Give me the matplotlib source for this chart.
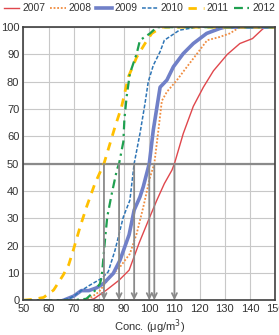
import matplotlib
matplotlib.use("Agg")
import matplotlib.pyplot as plt

plt.rcParams['font.family'] = ['Liberation Sans', 'DejaVu Sans']

# cumulative percentage curves
x_2007 = [76, 78, 83, 88, 92, 96, 100, 103, 106, 109, 110, 113.5, 117.5, 121.5, 125.5, 131, 136, 141, 144.7, 146, 150]
y_2007 = [0, 0.5, 3.7, 7.3, 11, 21, 30, 36.6, 42.7, 47.6, 50, 61, 71, 78, 84, 90, 94, 95.8, 99, 100, 100]

x_2008 = [74, 76, 80, 84.4, 88.4, 92.3, 95, 97.6, 100.3, 102, 103.6, 105, 107, 111, 115, 119, 123, 128, 132, 136, 150]
y_2008 = [0, 0.5, 3, 8.5, 12.2, 17, 24.4, 34, 45, 50, 62, 73, 76.3, 80.6, 85.5, 90.3, 95.2, 96.4, 97.7, 100, 100]

x_2009 = [66, 70, 73, 76, 79, 81.7, 85.7, 88.4, 92, 94, 96.3, 97.6, 100, 101.6, 104.3, 107, 109.6, 113.5, 117.5, 122.8, 128, 130, 150]
y_2009 = [0, 1.5, 3.5, 3.5, 4.5, 6, 9.8, 14.7, 24, 33, 37.8, 41.5, 50, 62.3, 78, 80.6, 85.5, 90.3, 94, 97.7, 99.5, 100, 100]

x_2010 = [64, 68, 70, 73, 76.4, 81.1, 83.7, 86.4, 89.7, 92.3, 94, 96.3, 98.3, 99.6, 101.6, 104.3, 106, 112, 119, 150]
y_2010 = [0, 0.5, 1.5, 3.5, 5.5, 8, 10.4, 18.3, 30.5, 36.6, 50, 61, 72, 80, 86, 91, 95.2, 98.9, 100, 100]

x_2011 = [50, 54, 58, 62, 65.8, 68, 69.8, 72.5, 75.1, 78.4, 82, 86.4, 89, 91.7, 95, 98.3, 101, 105, 150]
y_2011 = [0, 0.3, 1, 3.7, 9.2, 13, 18.3, 26.8, 34.2, 42.7, 50, 63.5, 70.8, 81.8, 89, 94, 97.7, 100, 100]

x_2012 = [50, 70, 75, 78, 80.4, 81.1, 82.4, 83.3, 85.1, 87.1, 88, 89.7, 90.1, 91, 92.3, 95, 96.3, 100.3, 103, 150]
y_2012 = [0, 0, 0.5, 3, 6, 8.5, 22, 30.5, 39, 47.6, 50, 58, 66, 74.5, 83, 90.3, 95.2, 97.7, 100, 100]

medians = [82, 88, 94, 100, 102, 110]

fig = plt.figure(figsize=(2.79, 3.35), dpi=100)
ax = fig.add_axes([0.084, 0.104, 0.902, 0.815])

ax.plot(x_2007, y_2007, color='#E0474C', lw=1.0, label='2007')
ax.plot(x_2008, y_2008, color='#F08C40', lw=1.3, ls=(0, (1, 1)), label='2008')
ax.plot(x_2009, y_2009, color='#7080C8', lw=2.6, label='2009')
ax.plot(x_2010, y_2010, color='#2E75B6', lw=1.1, ls=(0, (2.5, 1.2)), label='2010')
ax.plot(x_2011, y_2011, color='#FFC000', lw=2.0, ls=(0, (3, 2.5)), label='2011')
ax.plot(x_2012, y_2012, color='#1FA050', lw=1.6, ls=(0, (4, 2, 1, 2)), label='2012')

ax.axhline(50, color='#8A8A8A', lw=1.6, zorder=1)
for m in medians:
    ax.annotate('', xy=(m, 0), xytext=(m, 50),
                arrowprops=dict(arrowstyle='->', color='#8A8A8A', lw=1.3,
                                shrinkA=0, shrinkB=0, mutation_scale=9))

ax.set_xlim(50, 150)
ax.set_ylim(0, 100)
ax.set_xticks(range(50, 151, 10))
ax.set_yticks(range(0, 101, 10))
ax.grid(True, color='#C8C8C8', lw=0.8)
ax.set_axisbelow(True)
ax.tick_params(length=0, labelsize=8, colors='#333333', pad=3)
for s in ax.spines.values():
    s.set_color('#404040')
    s.set_linewidth(1.2)
ax.set_xlabel('Conc. (μg/m$^{3}$)', fontsize=8, color='#333333', labelpad=2)

fig.legend(loc='upper center', bbox_to_anchor=(0.5, 0.99), ncol=6, frameon=False,
           fontsize=7.4, handlelength=1.5, handletextpad=0.3, columnspacing=0.45,
           borderaxespad=0, borderpad=0, labelcolor='#333333')

fig.savefig('out.png', dpi=100)
